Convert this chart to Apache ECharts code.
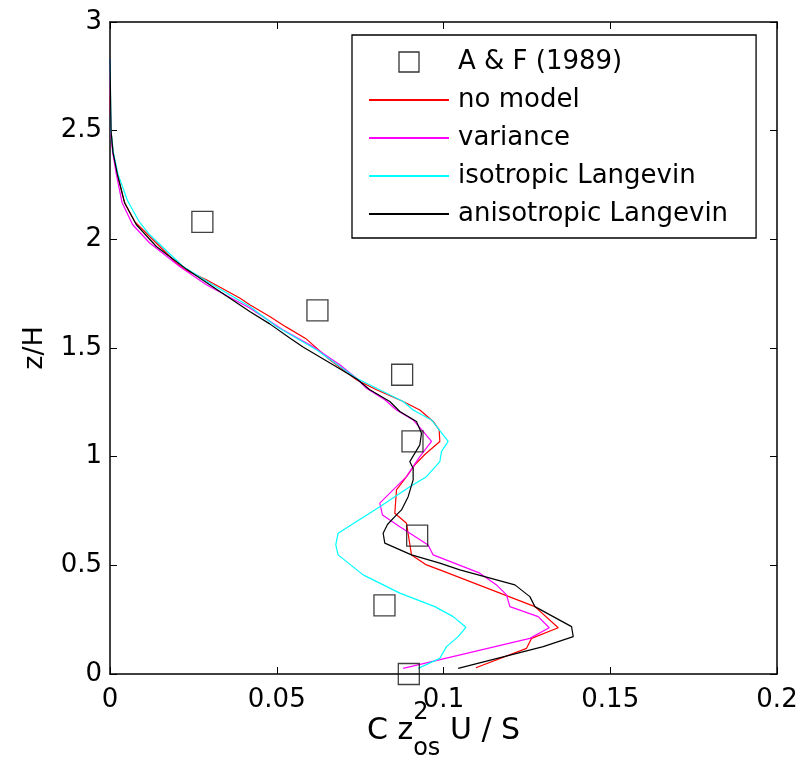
<!DOCTYPE html>
<html><head><meta charset="utf-8">
<script src="https://cdn.jsdelivr.net/npm/echarts@6/dist/echarts.min.js"></script>
<style>html,body{margin:0;padding:0;background:#fff}#c{width:798px;height:762px}</style>
</head><body><div id="c"></div>
<script>
// ---- data ----
const xTickLabels = ['0', '0.05', '0.1', '0.15', '0.2'];
const yTickLabels = ['0', '0.5', '1', '1.5', '2', '2.5', '3'];
const seriesNames = ['A & F (1989)', 'no model', 'variance', 'isotropic Langevin', 'anisotropic Langevin'];

const afX = [0.0277, 0.0622, 0.0876, 0.0907, 0.0921, 0.0823, 0.0896];
const afY = [2.08, 1.673, 1.377, 1.07, 0.637, 0.316, 0];

const noModelX = [0.1097,0.1249,0.1264,0.1344,0.1274,0.0989,0.0949,0.0904,0.0889,0.0854,0.0859,0.0889,0.0914,0.0944,0.0989,0.0987,0.0969,0.0929,0.0879,0.0799,0.0739,0.0659,0.0589,0.0529,0.0479,0.0419,0.0389,0.0289,0.0229,0.0199,0.0119,0.0075,0.0044,0.0022,0.0009,0.0003,0.0001,0];
const noModelY = [0.029,0.118,0.164,0.213,0.31,0.479,0.502,0.548,0.694,0.74,0.847,0.908,0.962,1.01,1.07,1.123,1.162,1.215,1.254,1.308,1.354,1.446,1.541,1.596,1.645,1.699,1.73,1.814,1.857,1.891,2.013,2.08,2.167,2.3,2.4,2.5,2.6,2.83];

const varianceX = [0.0879,0.1259,0.1317,0.1284,0.1199,0.1189,0.1159,0.1109,0.0969,0.0954,0.0869,0.0817,0.0809,0.0839,0.0889,0.0929,0.0964,0.0939,0.0909,0.0859,0.0824,0.0769,0.0739,0.0689,0.0608,0.0518,0.0419,0.0289,0.0209,0.0119,0.0068,0.0036,0.0019,0.0008,0.0002,0];
const varianceY = [0.026,0.164,0.213,0.264,0.31,0.364,0.41,0.464,0.548,0.594,0.678,0.732,0.786,0.832,0.908,1.0,1.07,1.116,1.169,1.215,1.262,1.315,1.361,1.423,1.507,1.584,1.684,1.791,1.875,1.983,2.067,2.17,2.3,2.4,2.5,2.83];

const isoX = [0.0924,0.0989,0.1009,0.1044,0.1067,0.1029,0.0974,0.0869,0.0759,0.0684,0.0677,0.0684,0.0809,0.0899,0.0949,0.0989,0.0994,0.1014,0.0964,0.0909,0.0879,0.0739,0.0619,0.0499,0.0419,0.0299,0.0219,0.0119,0.0088,0.0052,0.0024,0.0010,0.0003,0];
const isoY = [0.026,0.072,0.126,0.172,0.215,0.264,0.31,0.372,0.456,0.548,0.594,0.648,0.77,0.862,0.908,0.977,1.024,1.07,1.169,1.215,1.254,1.361,1.492,1.599,1.691,1.799,1.875,2.021,2.08,2.18,2.3,2.4,2.5,2.83];

const anisoX = [0.1044,0.1299,0.1389,0.1384,0.1274,0.1259,0.1214,0.1049,0.0989,0.0904,0.0824,0.0819,0.0832,0.0859,0.0874,0.0894,0.0909,0.0909,0.0899,0.0929,0.0934,0.0919,0.0869,0.0839,0.0779,0.0740,0.0690,0.0580,0.0539,0.0479,0.0419,0.0299,0.0229,0.0139,0.0079,0.0044,0.0022,0.0009,0.0003,0];
const anisoY = [0.026,0.126,0.172,0.218,0.31,0.356,0.41,0.479,0.51,0.548,0.602,0.648,0.688,0.732,0.755,0.816,0.893,0.947,0.977,1.054,1.108,1.162,1.208,1.254,1.308,1.357,1.403,1.503,1.546,1.611,1.668,1.791,1.863,1.967,2.067,2.167,2.3,2.4,2.5,2.83];

const zip = (xs, ys) => xs.map((x, i) => [x, ys[i]]);
const FONT = 'DejaVu Sans';

const chart = echarts.init(document.getElementById('c'), null, {renderer: 'canvas'});

const axisCommon = {
  type: 'value',
  axisLine: {show: true, onZero: false, lineStyle: {color: '#000', width: 1.5}},
  axisTick: {show: true, inside: true, length: 7, lineStyle: {color: '#000', width: 1}},
  splitLine: {show: false}
};

const lineSeries = (name, xs, ys, color) => ({
  name, type: 'line', data: zip(xs, ys), symbol: 'none', smooth: false,
  lineStyle: {color, width: 1.2}, itemStyle: {color}, z: 3, clip: false
});

const hiddenSymbol = {opacity: 0, color: 'rgba(0,0,0,0)', borderWidth: 0};

const option = {
  backgroundColor: '#fff',
  animation: false,
  textStyle: {fontFamily: FONT},
  grid: {left: 110, right: 21, top: 22, bottom: 88, containLabel: false, outerBoundsMode: 'none'},
  xAxis: [
    Object.assign({}, axisCommon, {
      position: 'bottom', min: 0, max: 0.2, interval: 0.05,
      axisLabel: {show: true, margin: 13, color: '#000', fontSize: 26, fontFamily: FONT,
        formatter: v => xTickLabels[Math.round(v / 0.05)]},
      name: '{n|C z}{sup|2}{sub|os}{n| U / S}',
      nameLocation: 'middle', nameGap: 27, nameMoveOverlap: false,
      nameTextStyle: {
        color: '#000', fontFamily: FONT,
        rich: {
          n: {fontSize: 30, lineHeight: 60, verticalAlign: 'middle', align: 'left', color: '#000', fontFamily: FONT},
          sup: {fontSize: 24, lineHeight: 60, verticalAlign: 'top', align: 'left', width: 0, color: '#000', fontFamily: FONT},
          sub: {fontSize: 24, lineHeight: 60, verticalAlign: 'bottom', align: 'left', color: '#000', fontFamily: FONT}
        }
      }
    }),
    Object.assign({}, axisCommon, {
      position: 'top', min: 0, max: 0.2, interval: 0.05, axisLabel: {show: false}
    })
  ],
  yAxis: [
    Object.assign({}, axisCommon, {
      position: 'left', min: 0, max: 3, interval: 0.5,
      axisLabel: {show: true, margin: 8, color: '#000', fontSize: 26, fontFamily: FONT,
        formatter: v => yTickLabels[Math.round(v / 0.5)]},
      name: 'z/H', nameLocation: 'middle', nameGap: 62, nameMoveOverlap: false,
      nameTextStyle: {color: '#000', fontSize: 27, fontFamily: FONT}
    }),
    Object.assign({}, axisCommon, {
      position: 'right', min: 0, max: 3, interval: 0.5, axisLabel: {show: false}
    })
  ],
  legend: {
    show: true, orient: 'vertical', left: 352, top: 35,
    padding: [14, 28, 11, 16], itemGap: 12, itemWidth: 80, itemHeight: 20,
    backgroundColor: '#fff', borderColor: '#000', borderWidth: 1.3, borderRadius: 0,
    selectedMode: false,
    textStyle: {color: '#000', fontSize: 26, fontFamily: FONT, padding: [0, 0, 0, 4]},
    data: [
      {name: seriesNames[0], icon: 'path://M0,0M80,20M30,0h20v20h-20z',
       itemStyle: {color: 'rgba(0,0,0,0)', borderColor: '#000', borderWidth: 1.3}},
      {name: seriesNames[1], itemStyle: hiddenSymbol},
      {name: seriesNames[2], itemStyle: hiddenSymbol},
      {name: seriesNames[3], itemStyle: hiddenSymbol},
      {name: seriesNames[4], itemStyle: hiddenSymbol}
    ]
  },
  series: [
    lineSeries(seriesNames[1], noModelX, noModelY, '#ff0000'),
    lineSeries(seriesNames[2], varianceX, varianceY, '#ff00ff'),
    lineSeries(seriesNames[3], isoX, isoY, '#00ffff'),
    lineSeries(seriesNames[4], anisoX, anisoY, '#000000'),
    {
      name: seriesNames[0], type: 'scatter', data: zip(afX, afY),
      symbol: 'rect', symbolSize: 21, clip: false, z: 4,
      itemStyle: {color: 'rgba(0,0,0,0)', borderColor: '#111', borderWidth: 1.3}
    }
  ]
};
chart.setOption(option);
</script></body></html>
